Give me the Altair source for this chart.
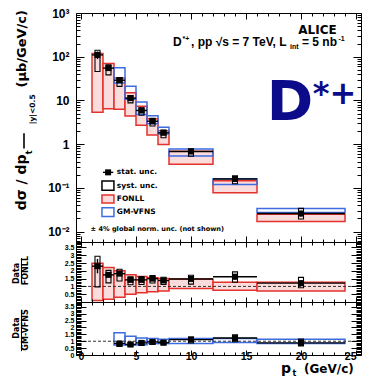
import altair as alt
import pandas as pd

FB = "DejaVu Sans"
FL = "Liberation Sans"

# ---------------- data ----------------
pt_lo = [1, 2, 3, 4, 5, 6, 7, 8, 12, 16]
pt_hi = [2, 3, 4, 5, 6, 7, 8, 12, 16, 24]
pt_c = [1.5, 2.5, 3.5, 4.5, 5.5, 6.5, 7.5, 10, 14, 20]

xsec = [110, 55, 29, 11.3, 5.9, 3.35, 1.82, 0.68, 0.16, 0.026]
stat_rel = [0.20, 0.08, 0.06, 0.06, 0.06, 0.07, 0.08, 0.07, 0.12, 0.15]
syst_hi = [141, 65, 33.6, 12.9, 6.8, 3.9, 2.1, 0.78, 0.19, 0.034]
syst_lo = [46, 38.5, 21, 8.8, 4.6, 2.6, 1.4, 0.53, 0.125, 0.0195]

fonll_hi = [119, 70, 32.7, 15.1, 7.4, 3.8, 2.04, 0.69, 0.146, 0.025]
fonll_lo = [5.4, 6.5, 6.3, 4.4, 2.7, 1.63, 0.99, 0.35, 0.078, 0.017]

gm_pt_lo = [3, 4, 5, 6, 7, 8, 12, 16]
gm_pt_hi = [4, 5, 6, 7, 8, 12, 16, 24]
gm_pt_c = [3.5, 4.5, 5.5, 6.5, 7.5, 10, 14, 20]
gm_hi = [56, 21, 9.2, 4.5, 2.43, 0.78, 0.162, 0.034]
gm_lo = [25, 10.6, 4.8, 2.95, 1.7, 0.54, 0.12, 0.0273]

# Data / FONLL
r_fonll = [2.3, 1.74, 1.82, 1.42, 1.42, 1.5, 1.38, 1.48, 1.62, 1.21]
r_fonll_syst_hi = [2.94, 2.03, 2.1, 1.62, 1.63, 1.69, 1.59, 1.72, 1.93, 1.58]
r_fonll_syst_lo = [0.97, 1.23, 1.35, 1.11, 1.12, 1.22, 1.12, 1.15, 1.27, 0.91]
band_fonll_hi = [2.48, 2.22, 2.0, 1.75, 1.64, 1.56, 1.5, 1.47, 1.27, 1.27]
band_fonll_lo = [0.1, 0.18, 0.3, 0.5, 0.59, 0.66, 0.7, 0.86, 0.75, 0.7]

# Data / GM-VFNS
r_gm = [0.84, 0.77, 0.88, 0.95, 0.9, 1.12, 1.23, 0.88]
r_gm_stat = [0.05, 0.05, 0.05, 0.06, 0.07, 0.07, 0.12, 0.15]
r_gm_syst_hi = [0.97, 0.88, 1.01, 1.07, 1.04, 1.3, 1.46, 1.15]
r_gm_syst_lo = [0.62, 0.6, 0.69, 0.77, 0.73, 0.87, 0.96, 0.66]
band_gm_hi = [1.61, 1.37, 1.23, 1.19, 1.14, 1.19, 1.19, 1.14]
band_gm_lo = [0.72, 0.72, 0.75, 0.84, 0.84, 0.84, 0.9, 0.84]

# axis ticks / labels
x_major = [0, 5, 10, 15, 20, 25]
x_minor = [v for v in range(0, 26) if v % 5 != 0]
y_top_major = [0.01, 0.1, 1, 10, 100, 1000]
y_top_labels = ["10⁻²", "10⁻¹", "1", "10", "10²", "10³"]
y_top_minor = [k * 10.0 ** e for e in range(-3, 3) for k in range(2, 10) if 0.0058 <= k * 10.0 ** e <= 1000]
r1_major = [0.5, 1, 1.5, 2, 2.5, 3, 3.5]
r2_major = [0, 0.5, 1, 1.5, 2, 2.5, 3, 3.5]
r_minor = [round(i * 0.1, 1) for i in range(0, 39) if i % 5 != 0]

# ---------------- styles / layout ----------------
RED = "#e3312b"
PINK = "#fbdcdc"
BLUE = "#3d6be0"
NAVY = "#0c0c8a"
W = 285
H_TOP, H_R1, H_R2 = 229, 60, 53
SX = W / 293.0


def tx(px):
    return (px - 75) * SX if px >= 75 else (px - 75)


def ty0(py):
    return (py - 11) * H_TOP / 240.0


def ty1(py):
    return (py - 251) * H_R1 / 63.0


def ty2(py):
    return (py - 314) * H_R2 / 55.0


xs = alt.Scale(domain=[0, 25], nice=False, zero=False)
ys_top = alt.Scale(type="log", domain=[0.0058, 1000], nice=False)
ys_rat = alt.Scale(domain=[0, 3.85], nice=False, zero=False)


def X(f):
    return alt.X(f, type="quantitative", scale=xs, axis=None)


def Y(f, sc):
    return alt.Y(f, type="quantitative", scale=sc, axis=None)


def band(df, sc, stroke, fill=None):
    if fill is None:
        m = alt.Chart(df).mark_rect(filled=False, color=stroke, strokeWidth=1.5)
    else:
        m = alt.Chart(df).mark_rect(fill=fill, stroke=stroke, strokeWidth=1.5)
    return m.encode(x=X("lo"), x2="hi", y=Y("blo", sc), y2="bhi")


def data_marks(df, sc):
    base = alt.Chart(df)
    xbar = base.mark_rule(color="black", strokeWidth=1.4).encode(x=X("lo"), x2="hi", y=Y("y", sc))
    syst = base.mark_bar(size=5, filled=False, color="black", strokeWidth=1.1).encode(
        x=X("c"), y=Y("slo", sc), y2="shi")
    stat = base.mark_rule(color="black", strokeWidth=1.4).encode(x=X("c"), y=Y("tlo", sc), y2="thi")
    mk = base.mark_square(size=36, color="black", opacity=1, filled=True).encode(x=X("c"), y=Y("y", sc))
    return [xbar, syst, stat, mk]


def carriers(sc, ymaj_vals, ylab_expr, ylab_size, ylab_pad, ymaj, ymin, ymin_vals, xmaj, xmin, xlabels):
    cdf = pd.DataFrame({"cx": [1.0], "cy": [1.0]})
    base = alt.Chart(cdf).mark_point(opacity=0)

    def ax(orient, vals, L, **kw):
        return alt.Axis(orient=orient, values=vals, tickSize=L, offset=-L, domain=False, grid=False,
                        tickColor="black", tickWidth=1, title=None, zindex=1, **kw)

    lab_y = dict(labels=True, labelExpr=ylab_expr, labelFont=FL, labelFontSize=ylab_size,
                 labelFontWeight="bold", labelColor="black", labelPadding=ylab_pad, labelFlush=False,
                 labelOverlap=False)
    xlab = dict(labelFont=FL, labelFontSize=10.5, labelFontWeight="bold", labelColor="black",
                labelPadding=1, labelFlush=False, labelOverlap=False)
    layers = [
        base.encode(x=alt.X("cx:Q", scale=xs, axis=ax("bottom", x_major, xmaj, labels=False)),
                    y=alt.Y("cy:Q", scale=sc, axis=ax("left", ymaj_vals, ymaj, **lab_y))),
        base.encode(x=alt.X("cx:Q", scale=xs, axis=ax("bottom", x_minor, xmin, labels=False)),
                    y=alt.Y("cy:Q", scale=sc, axis=ax("left", ymin_vals, ymin, labels=False))),
        base.encode(x=alt.X("cx:Q", scale=xs, axis=ax("top", x_major, xmaj, labels=False)),
                    y=alt.Y("cy:Q", scale=sc, axis=ax("right", ymaj_vals, ymaj, labels=False))),
        base.encode(x=alt.X("cx:Q", scale=xs, axis=ax("top", x_minor, xmin, labels=False)),
                    y=alt.Y("cy:Q", scale=sc, axis=ax("right", ymin_vals, ymin, labels=False))),
    ]
    if xlabels:
        layers += [
            base.encode(x=alt.X("cx:Q", scale=xs, axis=ax("bottom", x_major[:-1], xmaj, ticks=False,
                                                         labels=True, **xlab)),
                        y=alt.Y("cy:Q", scale=sc, axis=None)),
            base.encode(x=alt.X("cx:Q", scale=xs, axis=ax("bottom", x_major[-1:], xmaj, ticks=False,
                                                         labels=True, labelAlign="right", **xlab)),
                        y=alt.Y("cy:Q", scale=sc, axis=None)),
        ]
    return layers


def txt(text, x, y, size, align="left", baseline="alphabetic", angle=0, color="black",
        weight="bold", font=FB):
    return alt.Chart(pd.DataFrame({"t": [text]})).mark_text(
        align=align, baseline=baseline, angle=angle, fontSize=size, fontWeight=weight, font=font,
        color=color).encode(x=alt.value(x), y=alt.value(y), text="t:N")


def box(x1, x2, y1, y2, stroke, fill="white"):
    return alt.Chart(pd.DataFrame({"k": [0]})).mark_rect(fill=fill, stroke=stroke, strokeWidth=1.5).encode(
        x=alt.value(x1), x2=alt.value(x2), y=alt.value(y1), y2=alt.value(y2))


def rule(x1, x2, y1, y2, color="black", w=1.4):
    return alt.Chart(pd.DataFrame({"k": [0]})).mark_rule(color=color, strokeWidth=w).encode(
        x=alt.value(x1), x2=alt.value(x2), y=alt.value(y1), y2=alt.value(y2))


def anchor(x, y):
    return alt.Chart(pd.DataFrame({"k": [0]})).mark_rect(opacity=0).encode(
        x=alt.value(x), x2=alt.value(x + 1), y=alt.value(y), y2=alt.value(y + 1))


def label_expr(vals, labels):
    e = "''"
    for v, l in zip(vals, labels):
        e = f"abs(datum.value - {v}) < {v} * 0.01 ? '{l}' : " + e
    return e


# ---------------- tables ----------------
top_df = pd.DataFrame({"lo": pt_lo, "hi": pt_hi, "c": pt_c, "y": xsec,
                       "tlo": [v * (1 - s) for v, s in zip(xsec, stat_rel)],
                       "thi": [v * (1 + s) for v, s in zip(xsec, stat_rel)],
                       "slo": syst_lo, "shi": syst_hi})
fonll_df = pd.DataFrame({"lo": pt_lo, "hi": pt_hi, "blo": fonll_lo, "bhi": fonll_hi})
gm_df = pd.DataFrame({"lo": gm_pt_lo, "hi": gm_pt_hi, "blo": gm_lo, "bhi": gm_hi})

r1_df = pd.DataFrame({"lo": pt_lo, "hi": pt_hi, "c": pt_c, "y": r_fonll,
                      "tlo": [v * (1 - s) for v, s in zip(r_fonll, stat_rel)],
                      "thi": [v * (1 + s) for v, s in zip(r_fonll, stat_rel)],
                      "slo": r_fonll_syst_lo, "shi": r_fonll_syst_hi})
r1_band = pd.DataFrame({"lo": pt_lo, "hi": pt_hi, "blo": band_fonll_lo, "bhi": band_fonll_hi})
r2_df = pd.DataFrame({"lo": gm_pt_lo, "hi": gm_pt_hi, "c": gm_pt_c, "y": r_gm,
                      "tlo": [v * (1 - s) for v, s in zip(r_gm, r_gm_stat)],
                      "thi": [v * (1 + s) for v, s in zip(r_gm, r_gm_stat)],
                      "slo": r_gm_syst_lo, "shi": r_gm_syst_hi})
r2_band = pd.DataFrame({"lo": gm_pt_lo, "hi": gm_pt_hi, "blo": band_gm_lo, "bhi": band_gm_hi})
one_df = pd.DataFrame({"y": [1.0]})

# ---------------- top panel ----------------
top_layers = [band(fonll_df, ys_top, RED, PINK), band(gm_df, ys_top, BLUE)] + data_marks(top_df, ys_top)
top_layers += carriers(ys_top, y_top_major, label_expr(y_top_major, y_top_labels), 12, 7,
                       8, 4, y_top_minor, 6, 3, False)
# legend
top_layers += [
    rule(tx(102.7), tx(113.3), ty0(178), ty0(178)),
    alt.Chart(pd.DataFrame({"k": [0]})).mark_square(size=36, color="black", opacity=1).encode(
        x=alt.value(tx(108)), y=alt.value(ty0(178))),
    box(tx(101.7), tx(114), ty0(187), ty0(196.7), "black"),
    box(tx(101.7), tx(114), ty0(201.7), ty0(210), RED, PINK),
    box(tx(101.7), tx(114), ty0(215), ty0(224.3), BLUE),
    txt("stat. unc.", tx(117), ty0(178), 7.5, baseline="middle"),
    txt("syst. unc.", tx(117), ty0(192), 7.5, baseline="middle"),
    txt("FONLL", tx(117), ty0(206), 7.5, baseline="middle"),
    txt("GM-VFNS", tx(117), ty0(220), 7.5, baseline="middle"),
    txt("± 4% global norm. unc. (not shown)", tx(90), ty0(237.5), 6.6, baseline="middle"),
]
# header texts
top_layers += [
    txt("ALICE", tx(343), ty0(32.5), 12, align="right"),
    txt("D", 97, ty0(46), 12, font=FL),
    txt("*+", 106.5, ty0(40), 7, font=FL),
    txt(", pp √s = 7 TeV, L", 115, ty0(46), 12, font=FL),
    txt("int", 214, ty0(49), 7, font=FL),
    txt("= 5 nb", 226, ty0(46), 12, font=FL),
    txt("-1", 262.5, ty0(40), 7, font=FL),
    txt("D", tx(271), ty0(123), 56, color=NAVY),
    txt("*+", tx(318.5), ty0(106), 32, color=NAVY),
]
# y title
top_layers += [
    txt("(μb/GeV/c)", tx(21), ty0(48.5), 13, align="center", baseline="middle", angle=270),
    txt("|y|<0.5", tx(31.5), ty0(112), 7.5, align="center", baseline="middle", angle=270),
    rule(tx(23), tx(23), ty0(137), ty0(153), w=1.6),
    txt("t", tx(29), ty0(157), 8, align="center", baseline="middle", angle=270),
    txt("dσ / dp", tx(21), ty0(188.5), 14, align="center", baseline="middle", angle=270),
    anchor(-67, 100),
]
top = alt.layer(*top_layers).resolve_axis(x="independent", y="independent").properties(width=W, height=H_TOP)

# ---------------- ratio panel 1 ----------------
dash = alt.Chart(one_df).mark_rule(color="#333333", strokeDash=[3, 2], strokeWidth=1).encode(y=Y("y", ys_rat))
r1_layers = [band(r1_band, ys_rat, RED, PINK), dash] + data_marks(r1_df, ys_rat)
r1_layers += carriers(ys_rat, r1_major, "'' + datum.value", 7, 2, 10, 5, r_minor, 5, 3, False)
r1_layers += [
    txt("Data", tx(16), ty1(284), 8, align="center", baseline="middle", angle=270),
    rule(tx(20.5), tx(20.5), ty1(268), ty1(294), w=1),
    txt("FONLL", tx(25), ty1(281), 8, align="center", baseline="middle", angle=270),
]
r1 = alt.layer(*r1_layers).resolve_axis(x="independent", y="independent").properties(width=W, height=H_R1)

# ---------------- ratio panel 2 ----------------
r2_layers = [band(r2_band, ys_rat, BLUE), dash] + data_marks(r2_df, ys_rat)
r2_layers += carriers(ys_rat, r2_major, "'' + datum.value", 7, 2, 10, 5, r_minor, 5, 3, True)
r2_layers += [
    txt("Data", tx(16), ty2(341), 8, align="center", baseline="middle", angle=270),
    rule(tx(20.5), tx(20.5), ty2(322), ty2(365), w=1),
    txt("GM-VFNS", tx(25), ty2(343), 8, align="center", baseline="middle", angle=270),
    txt("p", 205, H_R2 + 18, 14),
    txt("t", 216.5, H_R2 + 21, 8),
    txt("(GeV/c)", 228, H_R2 + 18, 12),
]
r2 = alt.layer(*r2_layers).resolve_axis(x="independent", y="independent").properties(width=W, height=H_R2)

chart = alt.vconcat(top, r1, r2, spacing=0, bounds="flush").properties(
    padding={"left": 0, "top": -2, "right": 0, "bottom": 0}
).configure_view(stroke="black", strokeWidth=1)

chart.save("out.html", embed_options={"renderer": "svg", "actions": False})
